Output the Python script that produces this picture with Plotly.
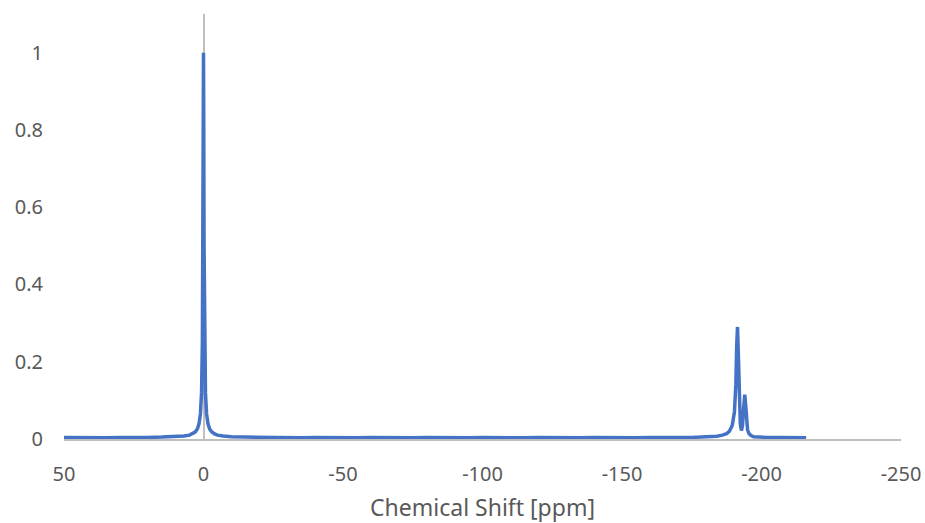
import plotly.graph_objects as go

# Chemical shift (ppm) and normalized intensity
shift_ppm = [
    50, 45, 40, 35, 30, 25, 20, 15, 10, 7, 5, 4, 3, 2.2, 1.6, 1.1, 0.7, 0.4, 0.2, 0.08, 0,
    -0.08, -0.2, -0.4, -0.7, -1.1, -1.6, -2.2, -3, -4, -5, -7, -10, -15, -20, -25, -30,
    -35, -40, -45, -50, -55, -60, -65, -70, -75, -80, -85, -90, -95, -100, -105, -110,
    -115, -120, -125, -130, -135, -140, -145, -150, -155, -160, -165, -170, -175, -180,
    -184, -186, -187.5, -188.5, -189.5, -190.3, -190.8, -191.1, -191.4, -191.7, -192.0,
    -192.4, -192.8, -193.2, -193.6, -194.0, -194.3, -194.6, -195.0, -195.5, -196.2, -197.2,
    -199, -202, -206, -210, -214, -216,
]
intensity = [
    0.004, 0.003, 0.004, 0.003, 0.004, 0.003, 0.004, 0.005, 0.006, 0.008, 0.010, 0.013,
    0.018, 0.026, 0.040, 0.065, 0.12, 0.25, 0.50, 0.85, 1.0,
    0.85, 0.50, 0.25, 0.12, 0.065, 0.040, 0.026, 0.018, 0.013, 0.010, 0.008, 0.006,
    0.005, 0.004, 0.003, 0.004, 0.003, 0.004, 0.003, 0.004, 0.003, 0.004, 0.003, 0.004,
    0.003, 0.004, 0.003, 0.004, 0.003, 0.004, 0.003, 0.004, 0.003, 0.004, 0.003, 0.004,
    0.003, 0.004, 0.003, 0.004, 0.003, 0.004, 0.003, 0.004, 0.004, 0.005,
    0.007, 0.010, 0.014, 0.020, 0.035, 0.07, 0.14, 0.24, 0.29, 0.22, 0.10,
    0.040, 0.022, 0.035, 0.08, 0.115, 0.09, 0.045, 0.024, 0.014, 0.009, 0.006,
    0.005, 0.004, 0.004, 0.003, 0.003, 0.003,
]

x_ticks = [50, 0, -50, -100, -150, -200, -250]
y_ticks = [0, 0.2, 0.4, 0.6, 0.8, 1]

font_family = "Noto Sans"
grey_text = "#595959"

fig = go.Figure()
fig.add_trace(go.Scatter(
    x=shift_ppm, y=intensity, mode="lines",
    line=dict(color="#4472C4", width=3.5),
    hoverinfo="x+y", showlegend=False,
))

fig.update_layout(
    width=925, height=523,
    margin=dict(l=64, r=24, t=14, b=84, autoexpand=False),
    paper_bgcolor="white", plot_bgcolor="white",
    font=dict(family=font_family, size=16, color=grey_text),
)
fig.update_xaxes(
    range=[50, -250], tickvals=x_ticks, ticktext=[str(v) for v in x_ticks],
    showgrid=False, zeroline=True, zerolinecolor="#BFBFBF", zerolinewidth=1.5,
    showline=True, linecolor="#BFBFBF", linewidth=1.5,
    ticks="", ticklabelstandoff=16, automargin=False,
    tickfont=dict(size=20, color=grey_text),
    title=dict(text="Chemical Shift [ppm]", font=dict(size=23, color=grey_text), standoff=20),
)
fig.update_yaxes(
    range=[0, 1.1], tickvals=y_ticks, ticktext=[f"{v:g}" for v in y_ticks],
    showgrid=False, zeroline=False, showline=False,
    ticks="", ticklabelstandoff=20, automargin=False,
    tickfont=dict(size=20, color=grey_text),
)

fig.write_html("out.html")
